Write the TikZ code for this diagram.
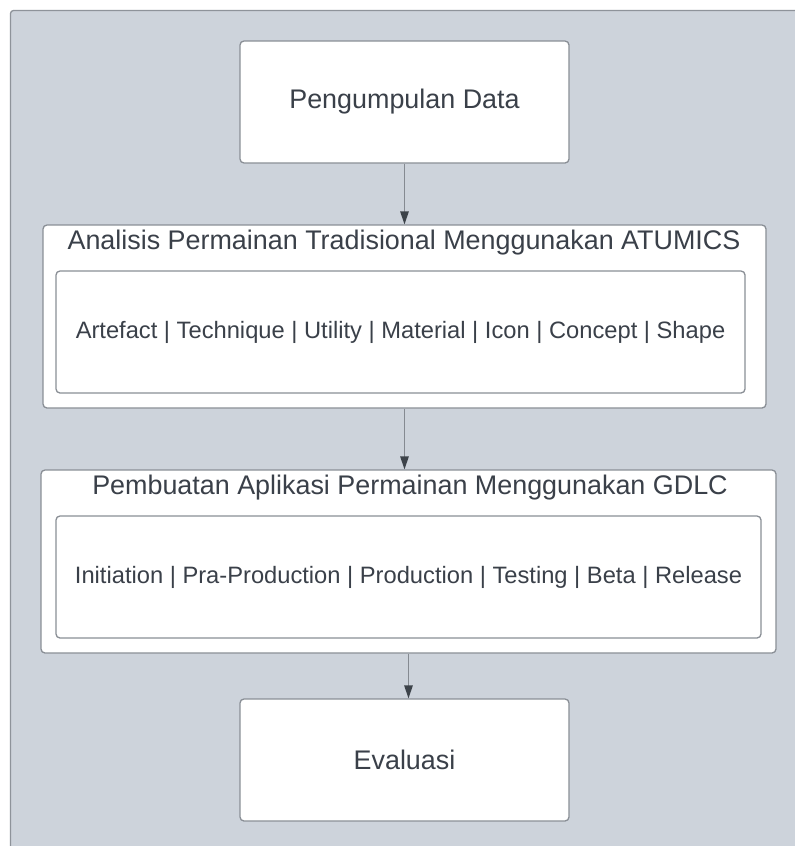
\documentclass[tikz,border=0pt]{standalone}
\usepackage{fontspec}
\setmainfont{Liberation Sans}
\usetikzlibrary{arrows.meta}
\definecolor{panelfill}{HTML}{CDD3DB}
\definecolor{panelline}{HTML}{8E939A}
\definecolor{boxline}{HTML}{8A8F96}
\definecolor{txt}{HTML}{3A4049}
\definecolor{arrline}{HTML}{858A91}
\definecolor{arrhead}{HTML}{3D434A}
\tikzset{
  card/.style={draw=boxline, fill=white, line width=1.3pt, rounded corners=4pt,
    inner sep=0pt, text=txt},
  bigtext/.style={font=\fontsize{26.9}{32}\selectfont, text=txt, inner sep=0pt},
  smalltext/.style={font=\fontsize{23.7}{28}\selectfont, text=txt, inner sep=0pt},
  flow/.style={draw=arrline, line width=1.4pt,
    -{Triangle[length=13pt,width=8.5pt,color=arrhead]}}
}
\begin{document}
\begin{tikzpicture}[x=1pt,y=-1pt]
\useasboundingbox (0,0) rectangle (795,846);
% background panel, open to the right and bottom
\fill[white] (0,0) rectangle (795,846);
\fill[panelfill, rounded corners=3pt] (10.5,860) -- (10.5,10.5) -- (810,10.5) -- (810,860) -- cycle;
\draw[panelline, line width=1.3pt, rounded corners=3pt] (10.5,860) -- (10.5,10.5) -- (810,10.5);

% step 1
\node[card, minimum width=329pt, minimum height=122pt, bigtext] (collect) at (404.5,102) {Pengumpulan Data};

% step 2: ATUMICS analysis
\node[card, minimum width=723pt, minimum height=183pt] (analysis) at (404.5,316.5) {};
\node[bigtext] (analysistitle) at (404,243) {Analisis Permainan Tradisional Menggunakan ATUMICS};
\node[card, minimum width=689pt, minimum height=122pt, smalltext] (atumics) at (400.5,332)
  {Artefact | Technique | Utility | Material | Icon | Concept | Shape};

% step 3: GDLC development
\node[card, minimum width=735pt, minimum height=183pt] (build) at (408.5,561.5) {};
\node[bigtext] (buildtitle) at (410,488) {Pembuatan Aplikasi Permainan Menggunakan GDLC};
\node[card, minimum width=705pt, minimum height=122pt, smalltext] (gdlc) at (408.5,577)
  {Initiation | Pra-Production | Production | Testing | Beta | Release};

% step 4
\node[card, minimum width=329pt, minimum height=122pt, bigtext] (eval) at (404.5,760) {Evaluasi};

% connectors
\draw[flow] (collect.south) -- (analysis.north);
\draw[flow] (analysis.south) -- (build.north -| analysis.south);
\draw[flow] (build.south) -- (build.south |- eval.north);
\end{tikzpicture}
\end{document}
